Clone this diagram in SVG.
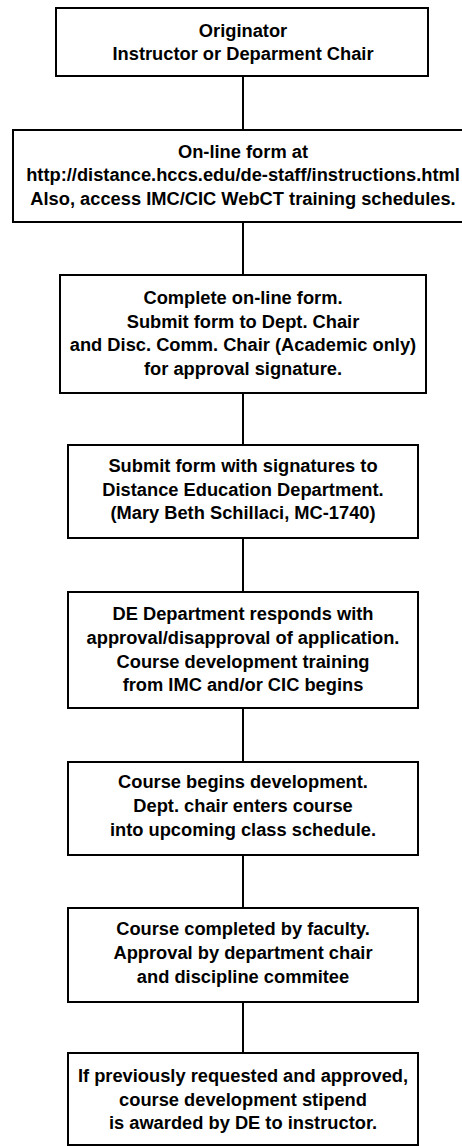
<svg xmlns="http://www.w3.org/2000/svg" width="462" height="1146" viewBox="0 0 462 1146">
<style>
.box{fill:#fff;stroke:#000;stroke-width:2}
.t{font-family:"Liberation Sans",Arial,sans-serif;font-weight:bold;font-size:18.3px;fill:#000;text-anchor:middle}
.c{stroke:#000;stroke-width:2;fill:none}
</style>
<rect width="462" height="1146" fill="#fff"/>
<g id="connectors">
<line class="c" x1="243" y1="76" x2="243" y2="130"/>
<line class="c" x1="243" y1="222" x2="243" y2="275"/>
<line class="c" x1="243" y1="393" x2="243" y2="445"/>
<line class="c" x1="243" y1="538" x2="243" y2="592"/>
<line class="c" x1="243" y1="708" x2="243" y2="762"/>
<line class="c" x1="243" y1="855" x2="243" y2="908"/>
<line class="c" x1="243" y1="1002" x2="243" y2="1053"/>
</g>
<g id="n1">
<rect class="box" x="56" y="8" width="372" height="68"/>
<text class="t" x="243" y="36.5">Originator</text>
<text class="t" x="243" y="60">Instructor or Deparment Chair</text>
</g>
<g id="n2">
<rect class="box" x="13" y="130" width="462" height="92"/>
<text class="t" x="243" y="157.5">On-line form at</text>
<text class="t" x="243" y="181">http://distance.hccs.edu/de-staff/instructions.html</text>
<text class="t" x="243" y="204.5">Also, access IMC/CIC WebCT training schedules.</text>
</g>
<g id="n3">
<rect class="box" x="60" y="275" width="366" height="118"/>
<text class="t" x="243" y="304">Complete on-line form.</text>
<text class="t" x="243" y="327.5">Submit form to Dept. Chair</text>
<text class="t" x="243" y="351">and Disc. Comm. Chair (Academic only)</text>
<text class="t" x="243" y="374.5">for approval signature.</text>
</g>
<g id="n4">
<rect class="box" x="68" y="445" width="350" height="93"/>
<text class="t" x="243" y="472">Submit form with signatures to</text>
<text class="t" x="243" y="495.5">Distance Education Department.</text>
<text class="t" x="243" y="519">(Mary Beth Schillaci, MC-1740)</text>
</g>
<g id="n5">
<rect class="box" x="68" y="592" width="350" height="116"/>
<text class="t" x="243" y="620">DE Department responds with</text>
<text class="t" x="243" y="644">approval/disapproval of application.</text>
<text class="t" x="243" y="667.5">Course development training</text>
<text class="t" x="243" y="691">from IMC and/or CIC begins</text>
</g>
<g id="n6">
<rect class="box" x="68" y="762" width="350" height="93"/>
<text class="t" x="243" y="788">Course begins development.</text>
<text class="t" x="243" y="812">Dept. chair enters course</text>
<text class="t" x="243" y="836">into upcoming class schedule.</text>
</g>
<g id="n7">
<rect class="box" x="68" y="908" width="350" height="94"/>
<text class="t" x="243" y="935">Course completed by faculty.</text>
<text class="t" x="243" y="959">Approval by department chair</text>
<text class="t" x="243" y="983">and discipline commitee</text>
</g>
<g id="n8">
<rect class="box" x="68" y="1053" width="350" height="92"/>
<text class="t" x="243" y="1082">If previously requested and approved,</text>
<text class="t" x="243" y="1105.5">course development stipend</text>
<text class="t" x="243" y="1129">is awarded by DE to instructor.</text>
</g>
</svg>
